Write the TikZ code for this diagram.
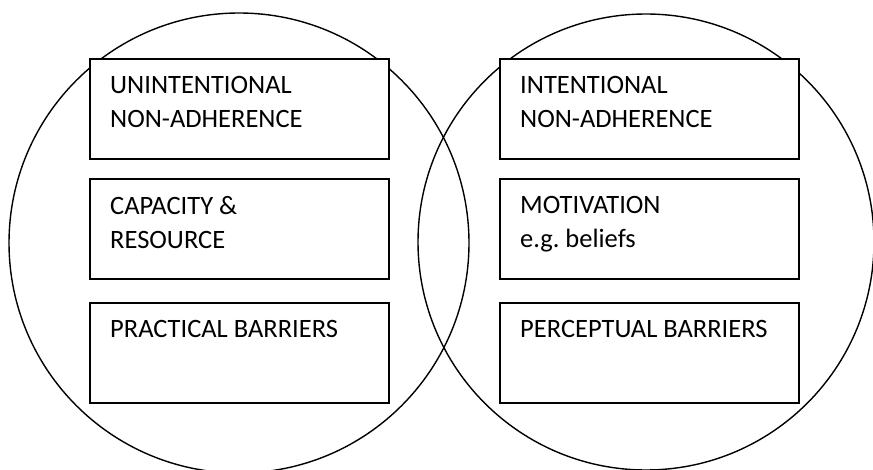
\documentclass[tikz,border=0pt]{standalone}
\usepackage{fontspec}
\setmainfont{Carlito}
\begin{document}
\frenchspacing
\begin{tikzpicture}[x=1pt,y=-1pt,
  ring/.style={draw=black,line width=1.4pt},
  box/.style={draw=black,line width=2pt,fill=white,minimum width=299pt,minimum height=100pt,inner sep=0pt,anchor=north west},
  lbl/.style={anchor=north west,inner sep=0pt,align=left,font=\fontsize{26.5}{34}\selectfont}]
\useasboundingbox (0,0) rectangle (873,470);
\node[ring,circle,minimum size=460pt,inner sep=0pt] (lc) at (239,243) {};
\node[ring,circle,minimum size=456pt,inner sep=0pt] (rc) at (646,242) {};
\node[box] (b1) at (89,58) {};
\node[box] (b2) at (89,178) {};
\node[box] (b3) at (89,302) {};
\node[box] (b4) at (499,58) {};
\node[box] (b5) at (499,178) {};
\node[box] (b6) at (499,302) {};
\node[lbl] (t1) at ([shift={(21,18)}]b1.north west) {UNINTENTIONAL\\NON-ADHERENCE};
\node[lbl] (t2) at ([shift={(21,18)}]b2.north west) {CAPACITY \&\\RESOURCE};
\node[lbl] (t3) at ([shift={(21,18)}]b3.north west) {PRACTICAL BARRIERS};
\node[lbl] (t4) at ([shift={(21,18)}]b4.north west) {INTENTIONAL\\NON-ADHERENCE};
\node[lbl] (t5) at ([shift={(21,18)}]b5.north west) {MOTIVATION\\e.g.\ beliefs};
\node[lbl] (t6) at ([shift={(21,18)}]b6.north west) {PERCEPTUAL BARRIERS};
\end{tikzpicture}
\end{document}
